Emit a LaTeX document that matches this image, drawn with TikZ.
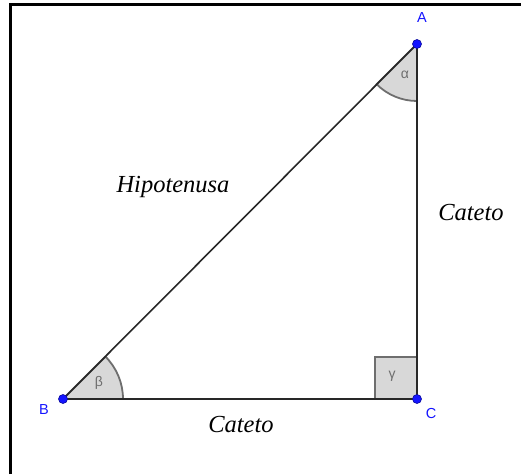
\documentclass[tikz,border=0pt]{standalone}
\usepackage{fontspec}
\setmainfont{Liberation Serif}
\newfontfamily\lsans{Liberation Sans}
\definecolor{ptblue}{RGB}{20,20,255}
\definecolor{anglefill}{RGB}{216,216,216}
\definecolor{anglestroke}{RGB}{110,110,110}
\definecolor{sidecol}{RGB}{40,40,40}
\begin{document}
\begin{tikzpicture}[x=1pt,y=1pt,
  side/.style={draw=sidecol,line width=1.4pt},
  anglemark/.style={fill=anglefill,draw=anglestroke,line width=1.8pt},
  ptdot/.style={circle,fill=ptblue,draw=ptblue!60!black,line width=0.6pt,inner sep=0pt,minimum size=9pt},
  ptlabel/.style={font=\lsans\fontsize{14.5}{14.5}\selectfont,text=ptblue},
  greek/.style={font=\lsans\fontsize{14}{14}\selectfont,text=anglestroke},
  sidelabel/.style={font=\itshape\fontsize{24.5}{24.5}\selectfont,text=black,anchor=base}]
\useasboundingbox (0,0) rectangle (521,474);
% frame
\draw[line width=3pt] (10.5,0) -- (10.5,469) -- (521,469);
% coordinates
\coordinate (A) at (417,430);
\coordinate (B) at (63,75);
\coordinate (C) at (417,75);
% angle marks
\draw[anglemark] (A) -- ++(225:57) arc[start angle=225,end angle=270,radius=57] -- cycle;
\draw[anglemark] (B) -- ++(0:60) arc[start angle=0,end angle=45,radius=60] -- cycle;
\draw[anglemark] (375,75) rectangle (417,117);
% sides
\draw[side] (B) -- (C);
\draw[side] (C) -- (A);
\draw[side,line width=1.6pt] (A) -- (B);
% greek
\node[greek] (al) at (405,399) {α};
\node[greek] (be) at (99,91) {β};
\node[greek] (ga) at (392,98) {γ};
% points
\node[ptdot] (pA) at (A) {};
\node[ptdot] (pB) at (B) {};
\node[ptdot] (pC) at (C) {};
\node[ptlabel] (lA) at (422,456) {A};
\node[ptlabel] (lB) at (44,64) {B};
\node[ptlabel] (lC) at (431,60) {C};
% side labels
\node[sidelabel] (hyp) at (173,281) {Hipotenusa};
\node[sidelabel] (cr) at (471,253) {Cateto};
\node[sidelabel] (cb) at (241,42) {Cateto};
\end{tikzpicture}
\end{document}
